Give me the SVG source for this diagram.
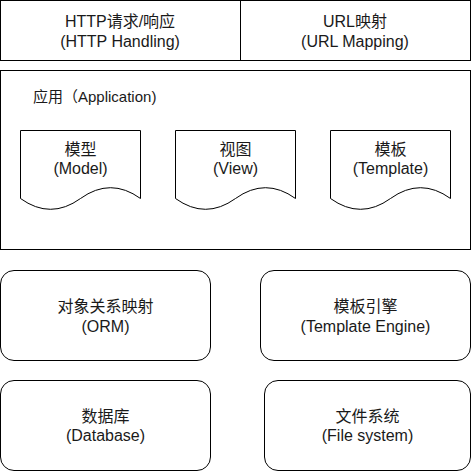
<svg xmlns="http://www.w3.org/2000/svg" width="471" height="471" viewBox="0 0 471 471">
<style>
.box{fill:#fff;stroke:#000;stroke-width:1}
text{font-family:"Liberation Sans","Noto Sans CJK SC",sans-serif;font-size:16px;fill:#1a1a1a;text-anchor:middle}
.lbl{font-size:15px;text-anchor:start}
</style>
<rect width="471" height="471" fill="#fff"/>
<g id="http">
<rect class="box" x="0.5" y="0.5" width="240" height="60"/>
<text x="120" y="27">HTTP请求/响应</text>
<text x="120" y="46.5">(HTTP Handling)</text>
</g>
<g id="url">
<rect class="box" x="240.5" y="0.5" width="230" height="60"/>
<text x="355" y="27">URL映射</text>
<text x="355" y="46.5">(URL Mapping)</text>
</g>
<g id="application">
<rect class="box" x="0.5" y="70.5" width="470" height="179"/>
<text class="lbl" x="33" y="102">应用（Application)</text>
</g>
<g id="model">
<path class="box" d="M20.5,130.5 H140.5 V198.5 Q110.5,176.9 80.5,198.5 Q50.5,220.1 20.5,198.5 Z"/>
<text x="80.5" y="155">模型</text>
<text x="80.5" y="173.5">(Model)</text>
</g>
<g id="view">
<path class="box" d="M175.5,130.5 H295.5 V198.5 Q265.5,176.9 235.5,198.5 Q205.5,220.1 175.5,198.5 Z"/>
<text x="235.5" y="155">视图</text>
<text x="235.5" y="173.5">(View)</text>
</g>
<g id="template">
<path class="box" d="M330.5,130.5 H450.5 V198.5 Q420.5,176.9 390.5,198.5 Q360.5,220.1 330.5,198.5 Z"/>
<text x="390.5" y="155">模板</text>
<text x="390.5" y="173.5">(Template)</text>
</g>
<g id="orm">
<rect class="box" x="0.5" y="270.5" width="210" height="90" rx="13.5"/>
<text x="105.5" y="312">对象关系映射</text>
<text x="105.5" y="331.5">(ORM)</text>
</g>
<g id="template-engine">
<rect class="box" x="260.5" y="270.5" width="210" height="90" rx="13.5"/>
<text x="365.5" y="312">模板引擎</text>
<text x="365.5" y="331.5">(Template Engine)</text>
</g>
<g id="database">
<rect class="box" x="0.5" y="380.5" width="210" height="90" rx="13.5"/>
<text x="105.5" y="422">数据库</text>
<text x="105.5" y="441">(Database)</text>
</g>
<g id="filesystem">
<rect class="box" x="264.5" y="380.5" width="206" height="90" rx="13.5"/>
<text x="367.5" y="422">文件系统</text>
<text x="367.5" y="441">(File system)</text>
</g>
<g id="connectors"></g>
</svg>
